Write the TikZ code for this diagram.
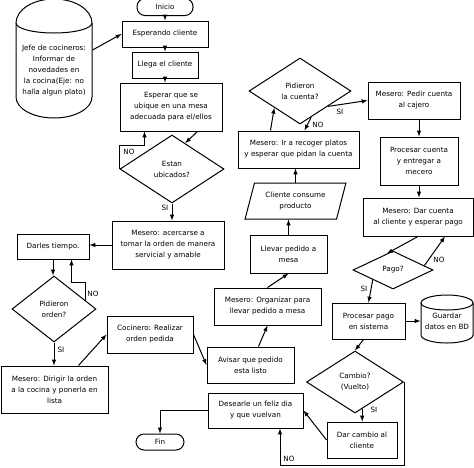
\documentclass[tikz,border=0pt]{standalone}
\usepackage{fontspec}
\setmainfont{DejaVu Sans}
\usetikzlibrary{shapes.geometric}
\newcommand{\chico}{\fontsize{7.2}{11}\selectfont}

\begin{document}
\begin{tikzpicture}[>=latex, x=1pt, y=-1pt, line width=1pt,
  caja/.style={draw, rectangle, inner sep=0pt, align=center, font=\chico},
  decision/.style={draw, diamond, inner sep=0pt, align=center, font=\chico},
  terminal/.style={draw, rectangle, rounded corners=8pt, inner sep=0pt, font=\chico},
  datos/.style={draw, trapezium, trapezium left angle=69, trapezium right angle=111,
    trapezium stretches=true, inner sep=0pt, align=center, font=\chico},
  etiqueta/.style={inner sep=1pt, font=\chico}]

\useasboundingbox (0,0) rectangle (474,467);

\node[terminal, minimum width=56, minimum height=17] (inicio) at (165,7) {Inicio};
\node[caja, minimum width=86, minimum height=26] (esperando) at (165,34) {Esperando cliente};
\node[caja, minimum width=66, minimum height=26] (llega) at (165,65) {Llega el cliente};
\node[caja, minimum width=102, minimum height=48] (esperar) at (171,107) {Esperar que se\\ubique en una mesa\\adecuada para el/ellos};
\node[decision, minimum width=104, minimum height=68] (ubicados) at (172,169) {Estan\\ubicados?};
\node[caja, minimum width=112, minimum height=48] (acercarse) at (168,245) {Mesero: acercarse a\\tomar la orden de manera\\servicial y amable};
\node[caja, minimum width=72, minimum height=25] (darles) at (53,246.5) {Darles tiempo.};
\node[decision, minimum width=84, minimum height=66] (pidieron) at (54,309) {Pidieron\\orden?};
\node[caja, minimum width=107, minimum height=47] (dirigir) at (54.5,389.5) {Mesero: Dirigir la orden\\a la cocina y ponerla en\\lista};
\node[caja, minimum width=86, minimum height=37] (cocinero) at (150,334.5) {Cocinero: Realizar\\orden pedida};
\node[caja, minimum width=87, minimum height=36] (avisar) at (250.5,365) {Avisar que pedido\\esta listo};
\node[caja, minimum width=107, minimum height=37] (organizar) at (267.5,306.5) {Mesero: Organizar para\\llevar pedido a mesa};
\node[caja, minimum width=77, minimum height=38] (llevar) at (288.5,254) {Llevar pedido a\\mesa};
\node[datos, minimum width=101, minimum height=36] (consume) at (295.5,201) {Cliente consume\\producto};
\node[caja, minimum width=121, minimum height=37] (recoger) at (298.5,149.5) {Mesero: Ir a recoger platos\\y esperar que pidan la cuenta};
\node[decision, minimum width=102, minimum height=66] (cuenta) at (300,91) {Pidieron\\la cuenta?};
\node[caja, minimum width=92, minimum height=37] (pedir) at (414,100.5) {Mesero: Pedir cuenta\\al cajero};
\node[caja, minimum width=78, minimum height=48] (proccuenta) at (419,161) {Procesar cuenta\\y entregar a\\mecero};
\node[caja, minimum width=110, minimum height=38] (darcuenta) at (418,217) {Mesero: Dar cuenta\\al cliente y esperar pago};
\node[decision, minimum width=80, minimum height=38] (pago) at (393,270) {Pago?};
\node[caja, minimum width=73, minimum height=36] (procpago) at (368.5,321) {Procesar pago\\en sistema};
\node[align=center, font=\chico, minimum width=52, minimum height=48, inner sep=0pt] (guardar) at (447,321) {Guardar\\datos en BD};
\node[decision, minimum width=97, minimum height=62] (cambio) at (355,382) {Cambio?\\(Vuelto)};
\node[caja, minimum width=70, minimum height=36] (darcambio) at (362,440) {Dar cambio al\\cliente};
\node[caja, minimum width=95, minimum height=35] (desearle) at (255.5,410.5) {Desearle un feliz dia\\y que vuelvan};
\node[terminal, minimum width=48, minimum height=16] (fin) at (160,442) {Fin};
\node[align=center, font=\chico, minimum width=76, inner sep=0pt] (jefe) at (54,71) {Jefe de cocineros:\\Informar de\\novedades en\\la cocina(Eje: no\\halla algun plato)};

\draw (16,23) -- (16,97) arc[start angle=180, end angle=0, x radius=38, y radius=21] -- (92,23) arc[start angle=0, end angle=-180, x radius=38, y radius=24];
\draw (16,23) arc[start angle=180, end angle=0, x radius=38, y radius=10];

\draw (421,303) -- (421,335) arc[start angle=180, end angle=0, x radius=26, y radius=8] -- (473,303) arc[start angle=0, end angle=-180, x radius=26, y radius=8];
\draw (421,303) arc[start angle=180, end angle=0, x radius=26, y radius=7];

\draw[->] (inicio.south) -- (esperando.north);
\draw[->] ([yshift=21pt]jefe.east) -- (esperando.west);
\draw[->] (esperando.south) -- (llega.north);
\draw[->] (llega.south) -- (llega.south |- esperar.north);
\draw[->] ([xshift=-25pt]esperar.south east) -- (ubicados.63);
\draw[->] (ubicados.west) -- ++(0,-24) -| ([xshift=25pt]esperar.south west);
\draw[->] (ubicados.south) -- (ubicados.south |- acercarse.north);
\draw[->] (acercarse.west) -- (acercarse.west -| darles.east);
\draw[->] (darles.south) -- (darles.south |- pidieron.north);
\draw[->] (pidieron.15) -- ++(0,-18) -| ([xshift=-18pt]darles.south east);
\draw[->] (pidieron.south) -- (pidieron.south |- dirigir.north);
\draw[->] ([xshift=-30pt]dirigir.north east) -- (cocinero.west);
\draw[->] (cocinero.east) -- (avisar.west);
\draw[->] ([xshift=8pt]avisar.north) -- (organizar.south);
\draw[->] (organizar.north) -- (llevar.south);
\draw[->] (llevar.north) -- (llevar.north |- consume.south);
\draw[->] (consume.north) -- (consume.north |- recoger.south);
\draw[->] ([xshift=33pt]recoger.north west) -- (cuenta.south west);
\draw[->] (cuenta.-67) -- ([xshift=6pt]recoger.north);
\draw[->] (cuenta.-29) -- (pedir.west);
\draw[->] (proccuenta.north |- pedir.south) -- (proccuenta.north);
\draw[->] (proccuenta.south) -- (proccuenta.south |- darcuenta.north);
\draw[->] (darcuenta.south) -- (pago.110);
\draw[->] (pago.8) -- ([xshift=27pt]darcuenta.south);
\draw[->] (pago.south west) -- (procpago.north);
\draw[->] (procpago.east) -- (procpago.east -| guardar.west);
\draw[->] ([xshift=-5pt]procpago.south) -- (cambio.north);
\draw[->] (cambio.-75) -- (cambio.-75 |- darcambio.north);
\draw[->] (darcambio.west) -- (desearle.east);
\draw[->] (cambio.east) -- ++(0,83) -| ([xshift=24.5pt]desearle.south);
\draw[->] (desearle.west) -| (fin.north);

\node[etiqueta] (noubic) at (129,152) {NO};
\node[etiqueta] (siubic) at (165,208) {SI};
\node[etiqueta] (noorden) at (93,294) {NO};
\node[etiqueta] (siorden) at (61,350) {SI};
\node[etiqueta] (nocuenta) at (318,125) {NO};
\node[etiqueta] (sicuenta) at (340,112) {SI};
\node[etiqueta] (nopago) at (439,260) {NO};
\node[etiqueta] (sipago) at (364,289) {SI};
\node[etiqueta] (sicambio) at (374,410) {SI};
\node[etiqueta] (nocambio) at (289,459) {NO};
\end{tikzpicture}
\end{document}
